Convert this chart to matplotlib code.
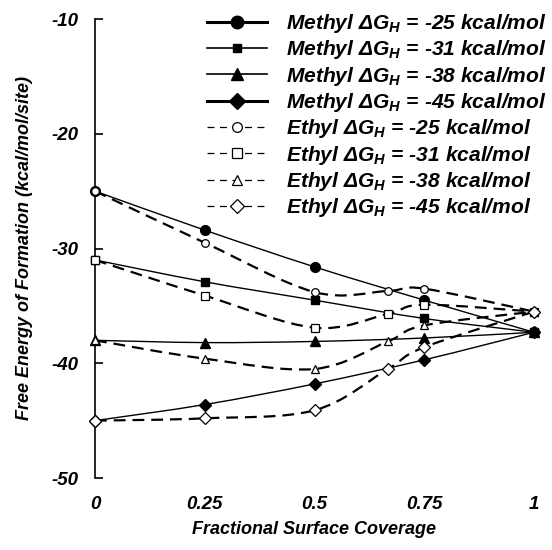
import numpy as np
import matplotlib
matplotlib.use("Agg")
import matplotlib.pyplot as plt
from matplotlib.path import Path
from matplotlib.patches import PathPatch
from matplotlib.lines import Line2D

plt.rcParams['font.family'] = ['Liberation Sans', 'DejaVu Sans']
plt.rcParams['font.weight'] = 'bold'
plt.rcParams['font.style'] = 'italic'
plt.rcParams['mathtext.fontset'] = 'custom'
plt.rcParams['mathtext.it'] = 'Liberation Sans:bold:italic'
plt.rcParams['mathtext.rm'] = 'Liberation Sans:bold:italic'
plt.rcParams['mathtext.bf'] = 'Liberation Sans:bold:italic'
plt.rcParams['lines.scale_dashes'] = False
plt.rcParams['axes.unicode_minus'] = False

# coverage values (x)
cov_methyl = [0, 0.25, 0.5, 0.75, 1]
cov_ethyl = [0, 0.25, 0.5, 0.667, 0.75, 1]

# hydrogen binding energies
dGH = [-25, -31, -38, -45]

# free energy of formation, kcal/mol/site
methyl = [
    [-25.0, -28.4, -31.6, -34.5, -37.3],
    [-31.0, -32.9, -34.5, -36.1, -37.3],
    [-38.0, -38.2, -38.1, -37.8, -37.3],
    [-45.0, -43.6, -41.8, -39.7, -37.3],
]
ethyl = [
    [-25.0, -29.5, -33.8, -33.7, -33.5, -35.5],
    [-31.0, -34.1, -36.9, -35.7, -34.9, -35.5],
    [-38.0, -39.6, -40.5, -38.1, -36.7, -35.5],
    [-45.0, -44.8, -44.1, -40.5, -38.6, -35.5],
]

markers = ['o', 's', '^', 'D']
msize_plot = [7, 5.5, 7, 6]
msize_open = [5.5, 5.5, 6, 6]
msize_leg = [9, 6, 8.5, 8.5]


def smooth_path(xs, ys, sx=439.0, sy=11.47):
    # Bezier smoothing like the spreadsheet "smoothed line" option
    P = np.column_stack([np.asarray(xs, float) * sx, np.asarray(ys, float) * sy])
    n = len(P)
    verts = [P[0]]
    codes = [Path.MOVETO]
    for i in range(n - 1):
        p0 = P[i - 1] if i > 0 else P[i]
        p3 = P[i + 2] if i + 2 < n else P[i + 1]
        c1 = P[i] + (P[i + 1] - p0) / 6.0
        c2 = P[i + 1] - (p3 - P[i]) / 6.0
        verts += [c1, c2, P[i + 1]]
        codes += [Path.CURVE4] * 3
    v = np.array(verts)
    v[:, 0] /= sx
    v[:, 1] /= sy
    return Path(v, codes)


fig = plt.figure(figsize=(5.52, 5.5), dpi=100)
ax = fig.add_axes([95 / 552, 1 - 478 / 550, 439 / 552, 459 / 550])

handles = []
labels = []
for i, g in enumerate(dGH):
    ax.add_patch(PathPatch(smooth_path(cov_methyl, methyl[i]), fill=False,
                           ec='black', lw=1.0, clip_on=False))
    ax.plot(cov_methyl, methyl[i], ls='none', marker=markers[i], ms=msize_plot[i],
            mfc='black', mec='black', clip_on=False, zorder=4)
    lw_leg = 2.2 if i in (0, 3) else 1.2
    handles.append(Line2D([], [], color='black', lw=lw_leg, marker=markers[i],
                          ms=msize_leg[i], mfc='black', mec='black'))
    labels.append("Methyl ΔG$_H$ = %d kcal/mol" % g)

for i, g in enumerate(dGH):
    ax.add_patch(PathPatch(smooth_path(cov_ethyl, ethyl[i]), fill=False,
                           ec='black', lw=1.6, ls=(0, (8.5, 5)), clip_on=False))
    ax.plot(cov_ethyl, ethyl[i], ls='none', marker=markers[i], ms=msize_open[i],
            mfc='white', mec='black', mew=0.9, clip_on=False, zorder=5)
    handles.append(Line2D([], [], color='black', lw=0.9, ls=(0, (5, 4)), marker=markers[i],
                          ms=7, mfc='white', mec='black', mew=0.9))
    labels.append("Ethyl ΔG$_H$ = %d kcal/mol" % g)

ax.set_xlim(0, 1)
ax.set_ylim(-50, -10)
ax.set_xticks([0, 0.25, 0.5, 0.75, 1])
ax.set_xticklabels(['0', '0.25', '0.5', '0.75', '1'])
ax.set_yticks([-50, -40, -30, -20, -10])

for s in ['top', 'right', 'bottom']:
    ax.spines[s].set_visible(False)
ax.spines['left'].set_linewidth(1.2)
ax.tick_params(axis='y', direction='in', length=6, width=1.2, pad=12, labelsize=13.5)
ax.tick_params(axis='x', length=0, pad=13, labelsize=13.5)

fig.text(25 / 552, 1 - 248 / 550, "Free Energy of Formation (kcal/mol/site)",
         rotation=90, ha='center', va='center', fontsize=13)
fig.text(314 / 552, 1 - 529 / 550, "Fractional Surface Coverage",
         ha='center', va='center', fontsize=13)

leg = fig.legend(handles, labels, loc='upper left', bbox_to_anchor=(207 / 552, 1 - 12 / 550),
                 frameon=False, fontsize=15.1, handlelength=2.85, handletextpad=0.9,
                 labelspacing=0.16, borderpad=0, borderaxespad=0)

fig.savefig("out.png", dpi=100)
